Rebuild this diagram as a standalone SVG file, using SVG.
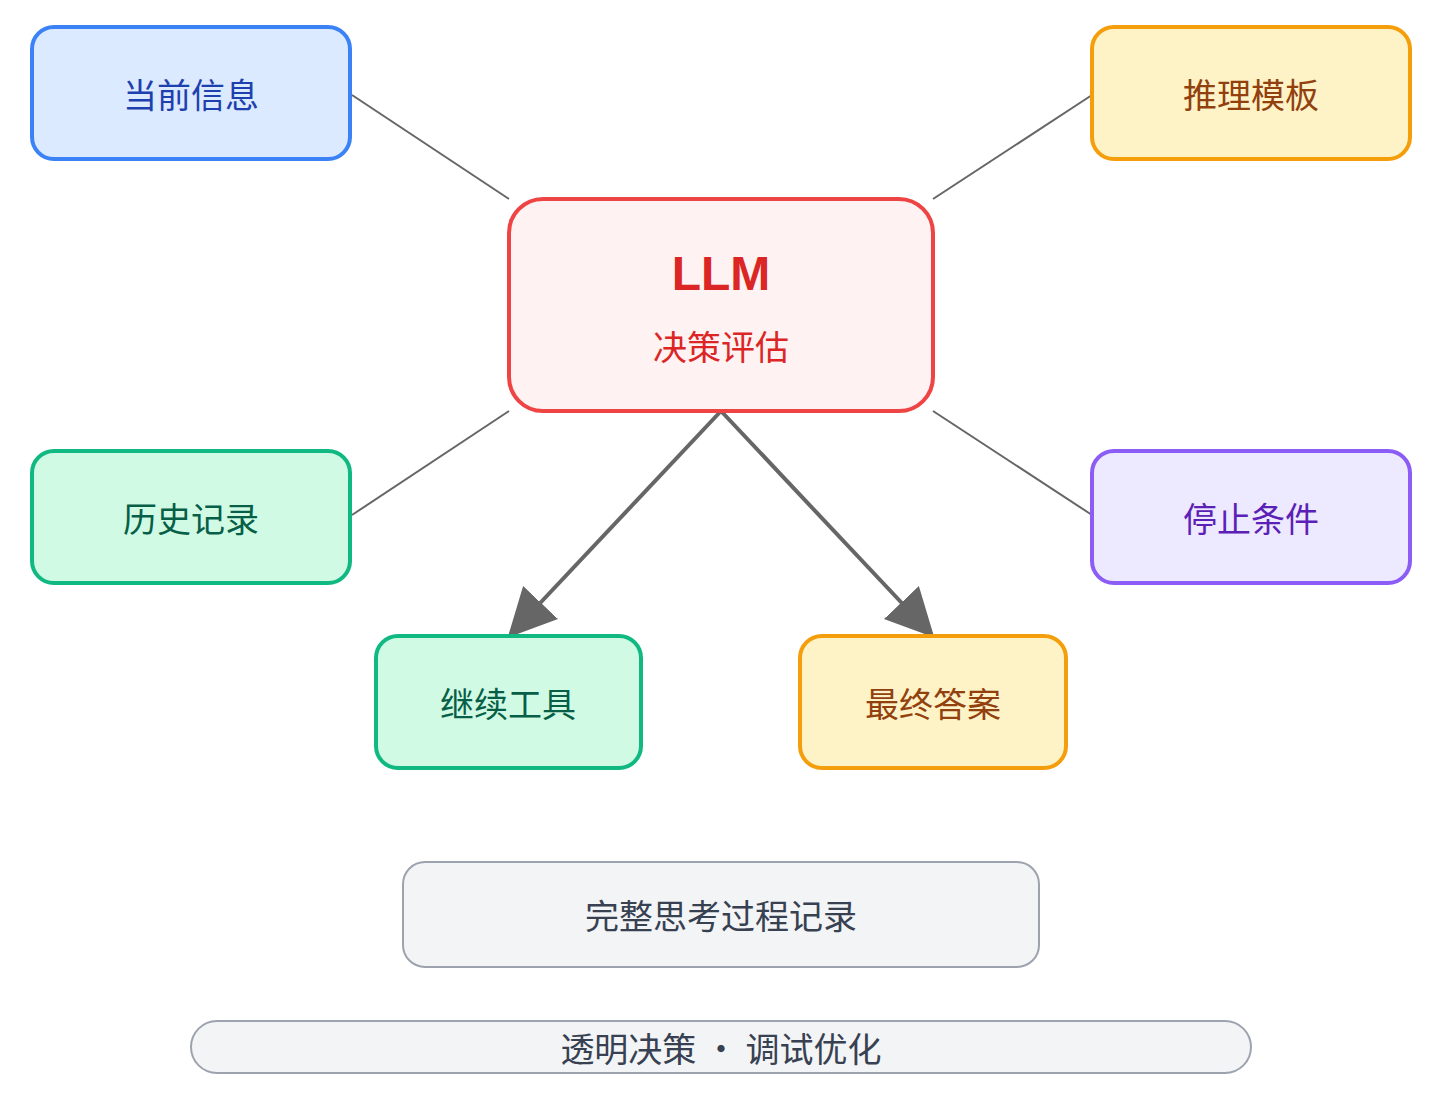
<svg xmlns="http://www.w3.org/2000/svg" width="1450" height="1112" viewBox="0 0 1450 1112">
<style>
text{font-family:"Noto Sans CJK SC","Liberation Sans",sans-serif;text-anchor:middle;dominant-baseline:central;font-size:34px}
.b rect{stroke-width:4}
.ln{stroke:#666;stroke-width:2;fill:none}
.ar{stroke:#666;stroke-width:4;fill:none;marker-end:url(#ah)}
</style>
<defs><marker id="ah" markerWidth="12" markerHeight="10" refX="10" refY="5" orient="auto" markerUnits="userSpaceOnUse" viewBox="0 0 12 10"><path d="M0,0L12,5L0,10z" fill="#666"/></marker>
<marker id="ah2" viewBox="0 0 10 10" refX="9" refY="5" markerWidth="12" markerHeight="12" orient="auto"><path d="M0,0L10,5L0,10z" fill="#666"/></marker></defs>
<g id="connectors">
<line class="ln" x1="352" y1="95" x2="509" y2="199"/>
<line class="ln" x1="1092" y1="95" x2="933" y2="199"/>
<line class="ln" x1="352" y1="515" x2="509" y2="411"/>
<line class="ln" x1="1092" y1="515" x2="933" y2="411"/>
<line class="ar" x1="721" y1="411" x2="511" y2="634" style="marker-end:url(#ah2)"/>
<line class="ar" x1="721" y1="411" x2="931" y2="634" style="marker-end:url(#ah2)"/>
</g>
<g id="n1" class="b"><rect x="32" y="27" width="318" height="132" rx="22" fill="#dbeafe" stroke="#3b82f6"/><text x="191" y="93" fill="#1e40af">当前信息</text></g>
<g id="n2" class="b"><rect x="1092" y="27" width="318" height="132" rx="22" fill="#fef3c7" stroke="#f59e0b"/><text x="1251" y="93" fill="#92400e">推理模板</text></g>
<g id="llm" class="b"><rect x="509" y="199" width="424" height="212" rx="34" fill="#fef2f2" stroke="#ef4444"/><text x="721" y="273" fill="#dc2626" font-weight="bold" style="font-size:48px;font-family:'Liberation Sans',sans-serif">LLM</text><text x="721" y="345" fill="#dc2626">决策评估</text></g>
<g id="n3" class="b"><rect x="32" y="451" width="318" height="132" rx="22" fill="#d1fae5" stroke="#10b981"/><text x="191" y="517" fill="#065f46">历史记录</text></g>
<g id="n4" class="b"><rect x="1092" y="451" width="318" height="132" rx="22" fill="#ede9fe" stroke="#8b5cf6"/><text x="1251" y="517" fill="#5b21b6">停止条件</text></g>
<g id="n5" class="b"><rect x="376" y="636" width="265" height="132" rx="22" fill="#d1fae5" stroke="#10b981"/><text x="508" y="702" fill="#065f46">继续工具</text></g>
<g id="n6" class="b"><rect x="800" y="636" width="266" height="132" rx="22" fill="#fef3c7" stroke="#f59e0b"/><text x="933" y="702" fill="#92400e">最终答案</text></g>
<g id="n7"><rect x="403" y="862" width="636" height="105" rx="22" fill="#f3f4f6" stroke="#9ca3af" stroke-width="2"/><text x="721" y="914" fill="#374151">完整思考过程记录</text></g>
<g id="n8"><rect x="191" y="1021" width="1060" height="52" rx="26" fill="#f3f4f6" stroke="#9ca3af" stroke-width="2"/><text x="721" y="1047" fill="#374151">透明决策 · 调试优化</text></g>
</svg>
